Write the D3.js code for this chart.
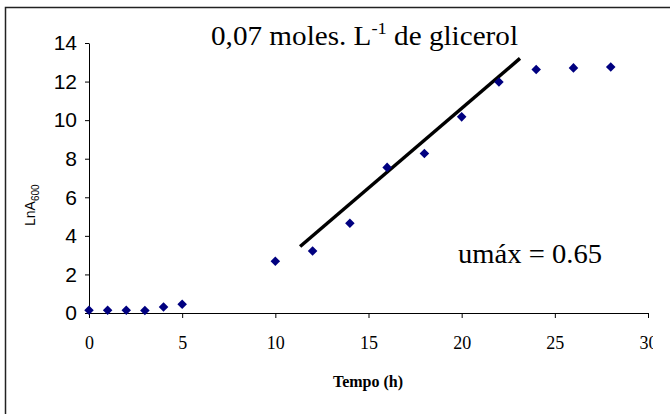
<!DOCTYPE html>
<html><head><meta charset="utf-8">
<script src="https://cdn.jsdelivr.net/npm/d3@7"></script>
<style>body{margin:0;background:#fff}svg{display:block}</style>
</head><body>
<script>
const times = [0,1,2,3,4,5,10,12,14,16,18,20,22,24,26,28];
const lnA = [0.14,0.14,0.14,0.13,0.31,0.45,2.68,3.21,4.65,7.55,8.27,10.17,11.98,12.63,12.71,12.76];
const trendX = [11.33, 23.13];
const trendY = [3.45, 13.2];
const xTicks = [0,5,10,15,20,25,30];
const yTicks = [0,2,4,6,8,10,12,14];
const titleMain = "0,07 moles. L";
const titleSup = "-1";
const titleRest = " de glicerol";
const muText = "umáx = 0.65";
const xLabel = "Tempo (h)";

const W = 670, H = 414;
const svg = d3.select("body").append("svg").attr("width", W).attr("height", H);

// outer frame
svg.append("rect").attr("x", 5.5).attr("y", 7.5).attr("width", 700).attr("height", 500)
  .attr("fill", "none").attr("stroke", "#222").attr("stroke-width", 1.5);

const x = d3.scaleLinear().domain([0,30]).range([89, 648]);
const y = d3.scaleLinear().domain([0,14]).range([313, 43]);

svg.append("clipPath").attr("id","clipR").append("rect").attr("x",0).attr("y",0).attr("width",653).attr("height",H);

// x axis
const gx = svg.append("g").attr("transform", "translate(0,313)").attr("clip-path","url(#clipR)")
  .call(d3.axisBottom(x).tickValues(xTicks).tickSize(5).tickPadding(18).tickSizeOuter(0));
gx.selectAll("text").attr("font-family", "Liberation Serif, Times New Roman, serif").attr("font-size", 18).attr("fill","#000");
gx.select(".domain").attr("stroke","#000");
gx.selectAll(".tick line").attr("stroke","#000");

// y axis
const gy = svg.append("g").attr("transform", "translate(89,0)")
  .call(d3.axisLeft(y).tickValues(yTicks).tickSize(4).tickPadding(8).tickSizeOuter(0));
gy.selectAll("text").attr("font-family", "Liberation Sans, Arial, sans-serif").attr("font-size", 21).attr("fill","#000");
gy.select(".domain").attr("stroke","#000");
gy.selectAll(".tick line").attr("stroke","#000");

// trend line
svg.append("line")
  .attr("x1", x(trendX[0])).attr("y1", y(trendY[0]))
  .attr("x2", x(trendX[1])).attr("y2", y(trendY[1]))
  .attr("stroke", "#000").attr("stroke-width", 3.5);

// points
const sym = d3.symbol().type(d3.symbolDiamond2).size(58);
svg.append("g").selectAll("path").data(times).join("path")
  .attr("d", sym)
  .attr("transform", (d,i) => `translate(${x(d)},${y(lnA[i])})`)
  .attr("fill", "#000080");

// title
const t = svg.append("text").attr("x", 211).attr("y", 45)
  .attr("font-family", "Liberation Serif, Times New Roman, serif").attr("font-size", 27).attr("fill","#000")
  .attr("textLength", 307).attr("lengthAdjust", "spacingAndGlyphs");
t.append("tspan").text(titleMain);
t.append("tspan").attr("font-size", 17).attr("dy", -11).text(titleSup);
t.append("tspan").attr("dy", 11).text(titleRest);

// mu text
svg.append("text").attr("x", 458).attr("y", 263)
  .attr("font-family", "Liberation Serif, Times New Roman, serif").attr("font-size", 27).attr("fill","#000")
  .attr("textLength", 144).attr("lengthAdjust", "spacingAndGlyphs")
  .text(muText);

// x label
svg.append("text").attr("x", 368).attr("y", 387).attr("text-anchor","middle")
  .attr("font-family", "Liberation Serif, Times New Roman, serif").attr("font-weight","bold").attr("font-size", 16)
  .attr("fill","#000").text(xLabel);

// y label
const yl = svg.append("text").attr("transform", "translate(35,226) rotate(-90)")
  .attr("font-family", "Liberation Sans, Arial, sans-serif").attr("font-size", 14).attr("fill","#000");
yl.append("tspan").text("LnA");
yl.append("tspan").attr("font-size", 10).attr("dy", 4).text("600");
</script>
</body></html>
